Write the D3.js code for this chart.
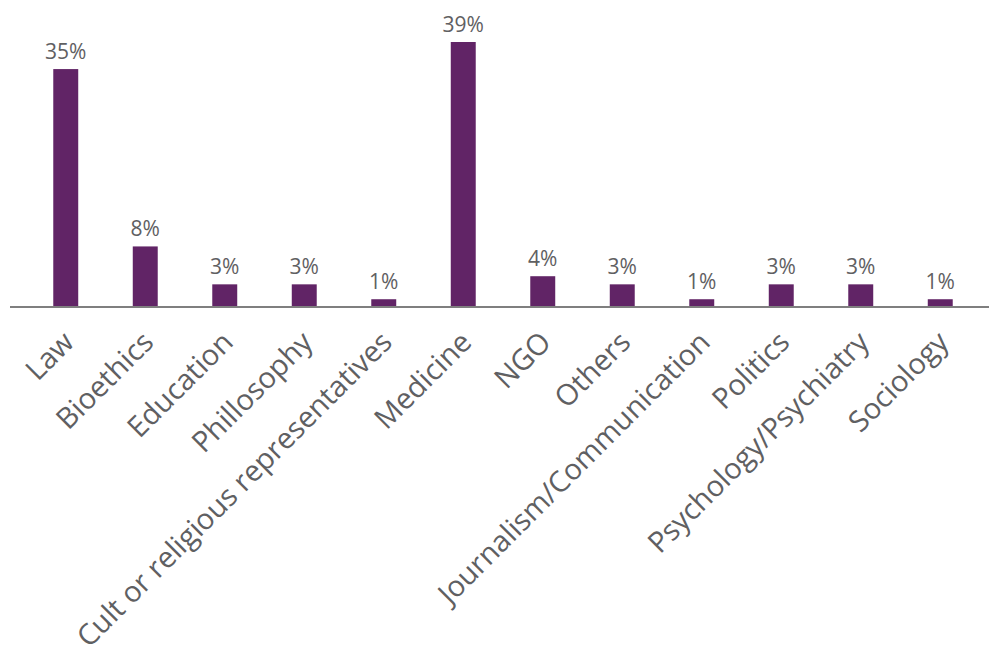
<!DOCTYPE html>
<html>
    <head>
        <meta charset="utf-8">
        <title>Share by field</title>
        <script src="https://d3js.org/d3.v7.min.js"></script>
        <style>
            body { margin: 0; background: #fff; }
        </style>
    </head>
    <body>
        <script>
            const categories = ["Law", "Bioethics", "Education", "Phillosophy",
                "Cult or religious representatives", "Medicine", "NGO", "Others",
                "Journalism/Communication", "Politics", "Psychology/Psychiatry", "Sociology"];
            // bar heights (%)
            const values = [35, 8.8, 3.2, 3.2, 1, 39, 4.4, 3.2, 1, 3.2, 3.2, 1];
            // labels as printed above the bars
            const valueLabels = ["35%", "8%", "3%", "3%", "1%", "39%", "4%", "3%", "1%", "3%", "3%", "1%"];

            const width = 989, height = 648;
            const baseY = 306;

            const svg = d3.select("body").append("svg")
                .attr("width", width)
                .attr("height", height)
            ;

            const x = d3.scaleBand()
                .domain(categories)
                .range([26, 980])
                .paddingInner(0.686)
                .paddingOuter(0.343)
            ;
            const y = d3.scaleLinear()
                .domain([0, 39])
                .range([baseY, 42])
            ;

            svg.selectAll("rect.bar")
                .data(values).join("rect")
                .attr("class", "bar")
                .attr("x", (d, i) => x(categories[i]))
                .attr("y", d => y(d))
                .attr("width", x.bandwidth())
                .attr("height", d => baseY - y(d))
                .style("fill", "#612466")
            ;

            // baseline
            svg.append("line")
                .attr("x1", 10).attr("x2", 989)
                .attr("y1", baseY + 1).attr("y2", baseY + 1)
                .style("stroke", "#7f7f7f")
                .style("stroke-width", 2)
            ;

            svg.selectAll("text.val")
                .data(values).join("text")
                .attr("class", "val")
                .attr("x", (d, i) => x(categories[i]) + x.bandwidth() / 2)
                .attr("y", d => y(d) - 10)
                .attr("text-anchor", "middle")
                .style("font-family", "'Open Sans', sans-serif")
                .style("font-size", "21px")
                .style("fill", "#5f6062")
                .text((d, i) => valueLabels[i])
            ;

            svg.selectAll("text.cat")
                .data(categories).join("text")
                .attr("class", "cat")
                .attr("transform", d => `translate(${x(d) + x.bandwidth() / 2 + 10},${baseY + 38}) rotate(-45)`)
                .attr("text-anchor", "end")
                .style("font-family", "'Open Sans', sans-serif")
                .style("font-size", "29px")
                .style("fill", "#5f6062")
                .text(d => d)
            ;
        </script>
    </body>
</html>
